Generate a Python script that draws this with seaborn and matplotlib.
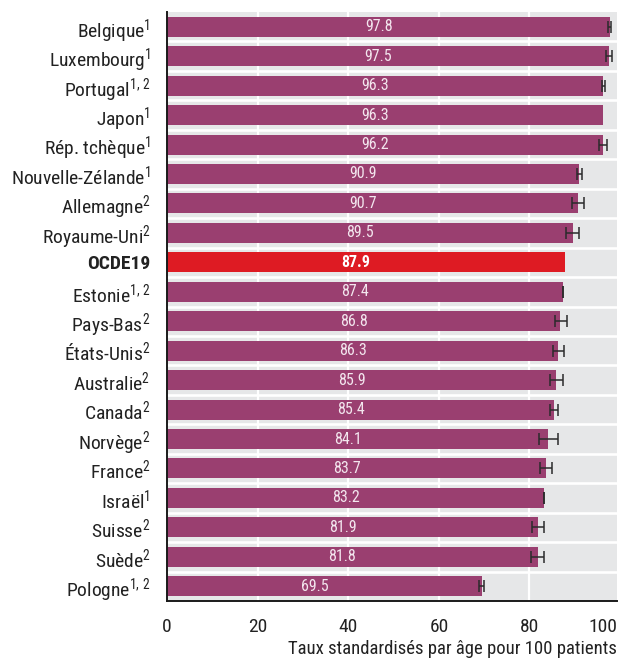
import matplotlib
matplotlib.use("Agg")
import matplotlib.pyplot as plt
import matplotlib.transforms as mtransforms
from matplotlib import font_manager
import numpy as np
import pandas as pd
import seaborn as sns

countries = ["Belgique$^{1}$", "Luxembourg$^{1}$", "Portugal$^{1,\\,2}$", "Japon$^{1}$",
             "Rép. tchèque$^{1}$", "Nouvelle-Zélande$^{1}$", "Allemagne$^{2}$",
             "Royaume-Uni$^{2}$", "OCDE19", "Estonie$^{1,\\,2}$", "Pays-Bas$^{2}$",
             "États-Unis$^{2}$", "Australie$^{2}$", "Canada$^{2}$", "Norvège$^{2}$",
             "France$^{2}$", "Israël$^{1}$", "Suisse$^{2}$", "Suède$^{2}$", "Pologne$^{1,\\,2}$"]
values = [97.8, 97.5, 96.3, 96.3, 96.2, 90.9, 90.7, 89.5, 87.9, 87.4,
          86.8, 86.3, 85.9, 85.4, 84.1, 83.7, 83.2, 81.9, 81.8, 69.5]
ci_low = [97.4, 97.0, 96.1, np.nan, 95.4, 90.4, 89.4, 88.1, np.nan, 87.3,
          85.7, 85.1, 84.5, 84.5, 82.2, 82.4, 83.1, 80.6, 80.4, 68.9]
ci_high = [98.0, 98.2, 96.6, np.nan, 97.1, 91.6, 92.0, 90.9, np.nan, 87.5,
           88.2, 87.6, 87.3, 86.4, 86.2, 85.0, 83.3, 83.3, 83.2, 69.9]
xticks = [0, 20, 40, 60, 80]
xlabel = "Taux standardisés par âge pour 100 patients"
highlight = "OCDE19"

PURPLE = "#9a3f70"
RED = "#de1b23"
BAND = "#e6e7e8"

sns.set_style("white")
avail = {f.name for f in font_manager.fontManager.ttflist}
prefs = ["Liberation Sans Narrow", "Roboto Condensed", "DejaVu Sans Condensed",
         "Open Sans Condensed", "Roboto", "Liberation Sans"]
FONT = next((p for p in prefs if p in avail), "DejaVu Sans")
plt.rcParams["font.family"] = [FONT, "DejaVu Sans"]
plt.rcParams["mathtext.fontset"] = "custom"
plt.rcParams["mathtext.rm"] = FONT
plt.rcParams["mathtext.it"] = FONT
plt.rcParams["mathtext.bf"] = FONT
plt.rcParams["mathtext.default"] = "rm"

df = pd.DataFrame({"pays": countries, "val": values, "lo": ci_low, "hi": ci_high})
palette = {c: (RED if c == highlight else PURPLE) for c in countries}

fig = plt.figure(figsize=(6.19, 6.60), dpi=100)
ax = fig.add_axes([0.270, 0.0894, 0.727, 0.8924])
ax.set_facecolor(BAND)

sns.barplot(data=df, x="val", y="pays", hue="pays", palette=palette, legend=False,
            width=0.68, ax=ax, zorder=3, saturation=1, linewidth=0, edgecolor="none")

n = len(countries)
xmax = 99.35
ax.set_xlim(0, xmax)
ax.set_ylim(n - 0.5, -0.5)

for b in np.arange(0.5, n - 0.5, 1):
    ax.axhline(b, color="white", lw=1.9, zorder=1)
for t in xticks[1:]:
    ax.axvline(t, color="white", lw=1.6, zorder=1)

m = df["lo"].notna()
ypos = np.arange(n)[m.values]
ax.errorbar(df["val"][m], ypos,
            xerr=[df["val"][m] - df["lo"][m], df["hi"][m] - df["val"][m]],
            fmt="none", ecolor="#2b2b2b", elinewidth=1.1, capsize=4.2, capthick=1.1, zorder=4)

for i, (c, v) in enumerate(zip(countries, values)):
    bold = c == highlight
    ax.text(v / 2 - 2.2, i, f"{v:.1f}", ha="center", va="center",
            color="white" if bold else "#f3e6ee", fontsize=11.5,
            fontweight="bold" if bold else "normal", zorder=5)

for s in ["top", "right"]:
    ax.spines[s].set_visible(False)
for s in ["left", "bottom"]:
    ax.spines[s].set_color("#1a1a1a")
    ax.spines[s].set_linewidth(1.4)
    ax.spines[s].set_zorder(6)

ax.set_xticks(xticks)
ax.set_xticklabels([str(t) for t in xticks], fontsize=14, color="#222222")
ax.tick_params(axis="x", direction="in", length=6, width=1.0, color="#1a1a1a", pad=12)
ax.text(xmax, 0, "100", transform=mtransforms.blended_transform_factory(ax.transData, ax.transAxes),
        ha="right", va="top", fontsize=14, color="#222222")
fig.canvas.draw()
bb = ax.get_xticklabels()[0].get_window_extent()
ax.texts[-1].set_position((xmax, ax.transAxes.inverted().transform((0, bb.y1))[1]))

ax.set_yticks(range(n))
ax.set_yticklabels(countries, fontsize=14, color="#222222")
for lab in ax.get_yticklabels():
    if lab.get_text() == highlight:
        lab.set_fontweight("bold")
ax.tick_params(axis="y", which="major", length=0, pad=12)
ax.set_yticks(np.arange(-0.5, n - 0.5, 1), minor=True)
ax.tick_params(axis="y", which="minor", direction="in", length=6, width=1.0, color="#444444")

ax.set_ylabel("")
ax.set_xlabel(xlabel, loc="right", fontsize=13.5, color="#222222", labelpad=3)

fig.savefig("out.png", dpi=100)
